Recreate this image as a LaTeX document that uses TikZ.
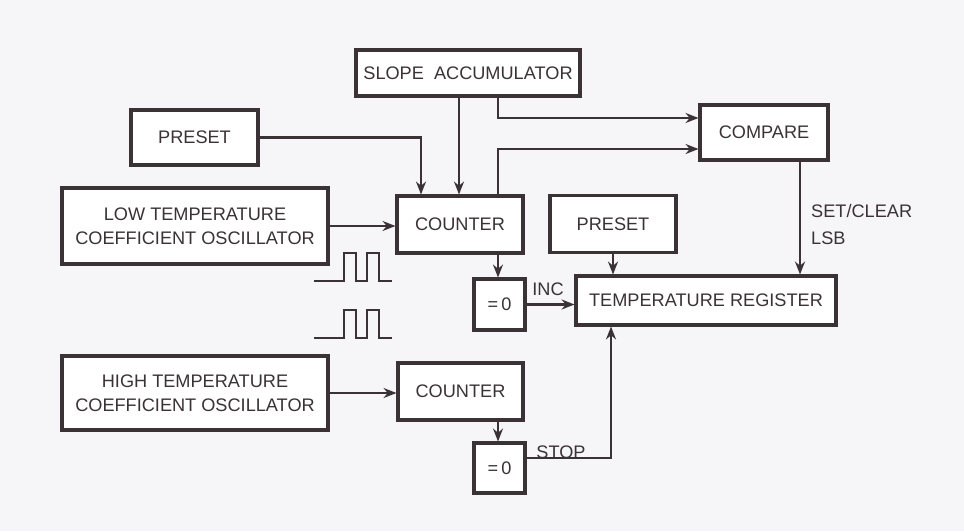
\documentclass[tikz,border=0pt]{standalone}
\usepackage{fontspec}
\setmainfont{Liberation Sans}
\usetikzlibrary{arrows.meta,positioning}
\definecolor{ink}{HTML}{3B3236}
\definecolor{paper}{HTML}{F6F6F8}

\begin{document}
\begin{tikzpicture}[x=0.03cm,y=-0.03cm,
    >={Stealth[length=11pt,width=8.5pt]},
    block/.style={draw=ink,line width=2.6pt,fill=white,text=ink,align=center,inner sep=0pt,
      font=\fontsize{15.5}{20.5}\selectfont},
    link/.style={draw=ink,line width=2.4pt,->},
    lbl/.style={text=ink,inner sep=0pt,font=\fontsize{15.5}{23}\selectfont}]
  \fill[paper] (0,0) rectangle (964,531);
  \useasboundingbox (0,0) rectangle (964,531);

  % blocks
  \node[block,minimum width=6.72cm,minimum height=1.38cm] (slope) at (468,73) {SLOPE\ \ ACCUMULATOR};
  \node[block,minimum width=3.81cm,minimum height=1.65cm] (presetA) at (194.5,137.5) {PRESET};
  \node[block,minimum width=3.84cm,minimum height=1.65cm] (compare) at (764,132.5) {COMPARE};
  \node[block,minimum width=7.98cm,minimum height=2.28cm] (lowosc) at (195,226) {LOW TEMPERATURE\\COEFFICIENT OSCILLATOR};
  \node[block,minimum width=3.78cm,minimum height=1.71cm] (counterA) at (460,224.5) {COUNTER};
  \node[block,minimum width=3.78cm,minimum height=1.71cm] (presetB) at (613,224) {PRESET};
  \node[block,minimum width=1.53cm,minimum height=1.53cm] (zeroA) at (499.5,304.5) {=\,0};
  \node[block,minimum width=7.8cm,minimum height=1.47cm] (treg) at (706,300.5) {TEMPERATURE REGISTER};
  \node[block,minimum width=7.98cm,minimum height=2.22cm] (highosc) at (195,393) {HIGH TEMPERATURE\\COEFFICIENT OSCILLATOR};
  \node[block,minimum width=3.75cm,minimum height=1.71cm] (counterB) at (460.5,391.5) {COUNTER};
  \node[block,minimum width=1.53cm,minimum height=1.5cm] (zeroB) at (499.5,468) {=\,0};

  % taps and turning points
  \coordinate (xp) at (421,0);
  \coordinate (xs) at (459,0);
  \coordinate (xc) at (498,0);
  \coordinate (xr) at (800,0);
  \coordinate (xq) at (611,0);
  \coordinate (ya) at (0,118);
  \coordinate (yb) at (0,149);
  \coordinate (ystop) at (0,458);

  % connectors
  \draw[link] (presetA.east) -| (counterA.north -| xp);
  \draw[link] (slope.south -| xs) -- (counterA.north -| xs);
  \draw[link] (slope.south -| xc) |- (compare.west |- ya);
  \draw[link] (counterA.north -| xc) |- (compare.west |- yb);
  \draw[link] (lowosc.east) -- (counterA.west |- lowosc.east);
  \draw[link] (counterA.south -| xc) -- (zeroA.north -| xc);
  \draw[link] (zeroA.east) -- (treg.west |- zeroA.east);
  \draw[link] (presetB.south) -- (treg.north -| presetB.south);
  \draw[link] (compare.south -| xr) -- (treg.north -| xr);
  \draw[link] (highosc.east) -- (counterB.west |- highosc.east);
  \draw[link] (counterB.south -| xc) -- (zeroB.north -| xc);
  \draw[link] (zeroB.east |- ystop) -| (treg.south -| xq);

  % labels
  \node[lbl] (inc) at (548,289) {INC};
  \node[lbl] (stop) at (561,452) {STOP};
  \node[lbl,anchor=north west,align=left] (setclr) at (811,204) {SET/CLEAR\\LSB};

  % pulse trains
  \foreach \yb in {281,338}
    \draw[ink,line width=1.9pt] (314,\yb) -- (344,\yb) -- (344,\yb-28) -- (356,\yb-28) -- (356,\yb)
      -- (367,\yb) -- (367,\yb-28) -- (379,\yb-28) -- (379,\yb) -- (392,\yb);
\end{tikzpicture}
\end{document}
